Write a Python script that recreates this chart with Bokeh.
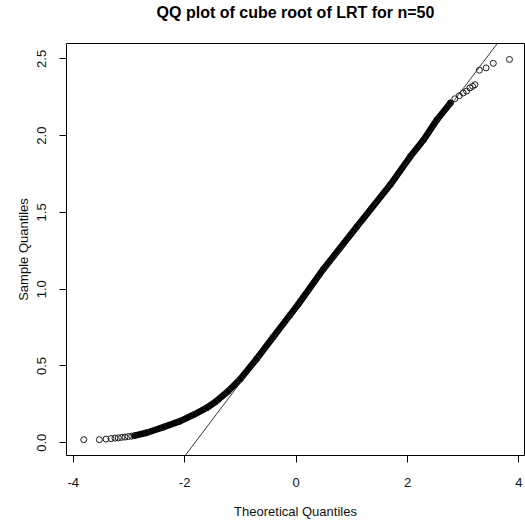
from bokeh.plotting import figure
from bokeh.models import Range1d, FixedTicker, Slope, Title
from bokeh.embed import file_html
from bokeh.resources import INLINE

# ---- data ----
# sparse lower tail (theoretical quantile, sample quantile)
theo_left = [-3.81, -3.53, -3.41, -3.32, -3.25, -3.19, -3.13, -3.07, -3.01, -2.95]
samp_left = [0.020, 0.020, 0.024, 0.027, 0.030, 0.032, 0.035, 0.037, 0.040, 0.043]

# dense body of the sample
theo_body = [-2.90, -2.68, -2.38, -2.08, -1.84, -1.60, -1.45, -1.22, -1.00, -0.71,
             -0.41, -0.11, 0.04, 0.49, 1.09, 1.69, 2.05, 2.29, 2.53, 2.77]
samp_body = [0.046, 0.065, 0.102, 0.141, 0.182, 0.228, 0.265, 0.335, 0.415, 0.545,
             0.689, 0.831, 0.902, 1.130, 1.407, 1.680, 1.864, 1.973, 2.104, 2.213]

# sparse upper tail
theo_right = [2.85, 2.93, 3.00, 3.06, 3.12, 3.17, 3.21, 3.29, 3.41, 3.54, 3.83]
samp_right = [2.240, 2.260, 2.278, 2.290, 2.311, 2.321, 2.332, 2.426, 2.441, 2.471, 2.496]

# qqline through the quartiles
line_intercept = 0.870
line_slope = 0.479

x_ticks = [-4, -2, 0, 2, 4]
x_tick_labels = ["-4", "-2", "0", "2", "4"]
y_ticks = [0.0, 0.5, 1.0, 1.5, 2.0, 2.5]
y_tick_labels = ["0.0", "0.5", "1.0", "1.5", "2.0", "2.5"]

title_text = "QQ plot of cube root of LRT for n=50"
x_label = "Theoretical Quantiles"
y_label = "Sample Quantiles"

FONT = "Liberation Sans"

p = figure(width=525, height=523, output_backend="svg", toolbar_location=None,
           x_range=Range1d(-4.12, 4.10), y_range=Range1d(-0.083, 2.60),
           min_border_left=66, min_border_right=1, min_border_top=0,
           min_border_bottom=68)
p.background_fill_color = "white"
p.border_fill_color = "white"
p.xgrid.visible = False
p.ygrid.visible = False
p.outline_line_color = "black"
p.outline_line_width = 1
p.outline_line_alpha = 1

# title (outermost) with a blank spacer panel between it and the frame
p.title.text = title_text
p.title.align = "center"
p.title.vertical_align = "top"
p.title.standoff = 6
p.title.text_font = FONT
p.title.text_font_size = "16px"
p.title.text_font_style = "bold"
p.title.text_color = "black"
p.add_layout(Title(text=" ", text_font_size="10px", standoff=5), "above")

for ax in (p.xaxis[0], p.yaxis[0]):
    ax.axis_line_color = None
    ax.major_tick_out = 7
    ax.major_tick_in = 0
    ax.minor_tick_line_color = None
    ax.major_tick_line_color = "black"
    ax.major_label_text_font = FONT
    ax.major_label_text_font_size = "13px"
    ax.major_label_text_color = "#111111"
    ax.axis_label_text_font = FONT
    ax.axis_label_text_font_size = "13px"
    ax.axis_label_text_font_style = "normal"
    ax.axis_label_text_color = "#111111"

xa = p.xaxis[0]
xa.ticker = FixedTicker(ticks=x_ticks)
xa.major_label_overrides = {t: s for t, s in zip(x_ticks, x_tick_labels)}
xa.major_label_standoff = 15
xa.axis_label = x_label
xa.axis_label_standoff = 14

ya = p.yaxis[0]
ya.ticker = FixedTicker(ticks=y_ticks)
ya.major_label_overrides = {t: s for t, s in zip(y_ticks, y_tick_labels)}
ya.major_label_orientation = "vertical"
ya.major_label_standoff = 13
ya.axis_label = y_label
ya.axis_label_standoff = 4

# dense band of overlapping points
p.line(theo_body, samp_body, line_width=6.5, line_color="black",
       line_cap="round", line_join="round")

all_x = theo_left + theo_body + theo_right
all_y = samp_left + samp_body + samp_right
p.scatter(all_x, all_y, marker="circle", size=6, fill_color=None,
          line_color="#1a1a1a", line_width=1)

p.add_layout(Slope(gradient=line_slope, y_intercept=line_intercept,
                   line_color="#222222", line_width=0.9))

open("out.html", "w").write(file_html(p, INLINE))
